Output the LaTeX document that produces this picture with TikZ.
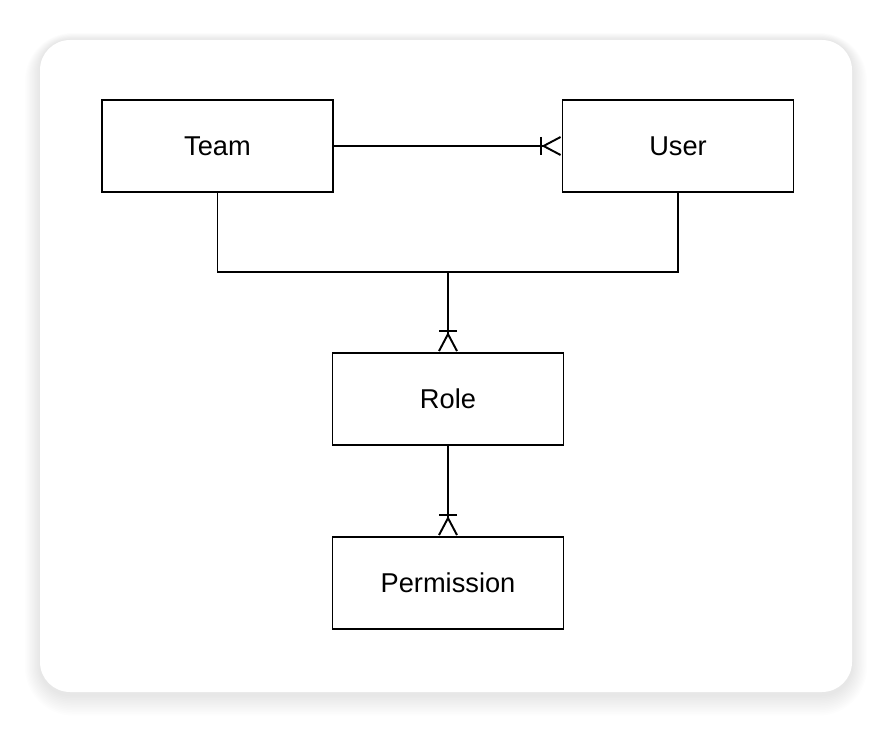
\documentclass[tikz,border=0pt]{standalone}
\usepackage{fontspec}
\setmainfont{Liberation Sans}
\usetikzlibrary{arrows.meta}

\begin{document}
\begin{tikzpicture}[every node/.style={rectangle, draw=black, line width=1.1pt, fill=white, minimum width=4.62cm, minimum height=1.84cm, font=\fontsize{15.5}{18}\selectfont}, link/.style={draw=black, line width=1.1pt}, crow/.style={link, -{Bar[width=0.36cm,sep=0pt]Straight Barb[reversed,length=0.34cm,width=0.36cm]}}]
			\useasboundingbox (0,0) rectangle (17.84,-14.64);
			\fill[white] (0,0) rectangle (17.84,-14.64);
			% soft shadow of the card
			\foreach \i in {1,...,12}
				\fill[black, opacity=0.008, rounded corners=0.6cm+\i*0.03cm] (0.8-\i*0.025,-0.8+\i*0.012) rectangle (17.04+\i*0.025,-13.84-0.05-\i*0.035);
			\fill[white, rounded corners=0.6cm] (0.8,-0.8) rectangle (17.04,-13.84);
			
			\node (team) at (4.35,-2.92){Team};
			\node (user) at (13.56,-2.92){User};
			\node (role) at (8.96,-7.98){Role};
			\node (perm) at (8.96,-11.66){Permission};
			\coordinate (hub) at (8.96,-5.44);
			
			\path[crow] (team) -- (user);
			\path[link] (team.south) |- (hub) -| (user.south);
			\path[crow] (hub) -- (role.north);
			\path[crow] (role) -- (perm);
			\end{tikzpicture}
\end{document}
